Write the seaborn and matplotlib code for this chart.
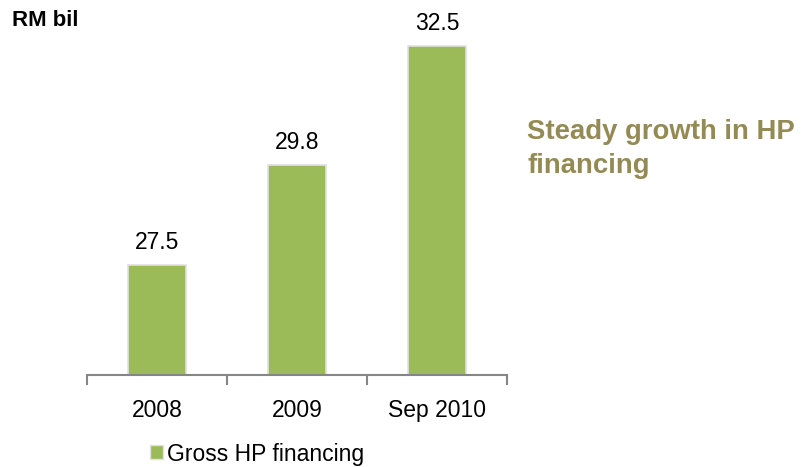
import matplotlib
matplotlib.use("Agg")
import matplotlib.pyplot as plt
import seaborn as sns
from matplotlib.patches import Patch

# data
categories = ["2008", "2009", "Sep 2010"]
values = [27.5, 29.8, 32.5]
series_name = "Gross HP financing"

BAR = "#9BBB59"
AXIS = "#868686"
NOTE = "#948A54"

sns.set_style("white")
plt.rcParams["font.family"] = ["Liberation Sans", "DejaVu Sans"]
plt.rcParams["text.color"] = "black"
plt.rcParams["xtick.color"] = "black"

fig = plt.figure(figsize=(8.01, 4.67), dpi=100)
ax = fig.add_axes([87 / 801, 92 / 467, 420 / 801, 355 / 467])

sns.barplot(x=categories, y=values, color=BAR, saturation=1, width=0.42,
            edgecolor="#e2dfe6", linewidth=1.2, ax=ax)

ax.set_ylim(25, 33.1)
ax.set_xlim(-0.5, len(categories) - 0.5)

for i, v in enumerate(values):
    ax.annotate(f"{v:.1f}", (i, v), xytext=(0, 8), textcoords="offset points",
                ha="center", va="bottom", fontsize=16.5, color="black")

# axis styling: only bottom line, ticks at category boundaries
for side in ["top", "right", "left"]:
    ax.spines[side].set_visible(False)
ax.spines["bottom"].set_color(AXIS)
ax.spines["bottom"].set_linewidth(1.5)
ax.set_yticks([])
ax.set_xticks(range(len(categories)))
ax.set_xticklabels(categories, fontsize=16.5, color="black")
ax.tick_params(axis="x", which="major", length=0, pad=17, bottom=True)
ax.set_xticks([i - 0.5 for i in range(len(categories) + 1)], minor=True)
ax.tick_params(axis="x", which="minor", length=7, width=1.5, color=AXIS,
               direction="out", bottom=True)
ax.set_xlabel("")
ax.set_ylabel("")

fig.text(12 / 801, 1 - 26 / 467, "RM bil", fontsize=16, fontweight="bold",
         va="baseline", ha="left", color="black")
# multi-line baseline anchors on the last line
fig.text(527 / 801, 1 - 173 / 467, "Steady growth in HP\nfinancing",
         fontsize=19.8, fontweight="bold", color=NOTE, va="baseline",
         ha="left", linespacing=1.38)

handle = Patch(facecolor=BAR, edgecolor="#e2dfe6")
fig.legend([handle], [series_name], loc="center left",
           bbox_to_anchor=(150 / 801, 1 - 454 / 467), frameon=False,
           fontsize=16.5, handlelength=0.55, handleheight=0.55,
           handletextpad=0.2, borderpad=0, borderaxespad=0)

fig.savefig("out.png", dpi=100)
